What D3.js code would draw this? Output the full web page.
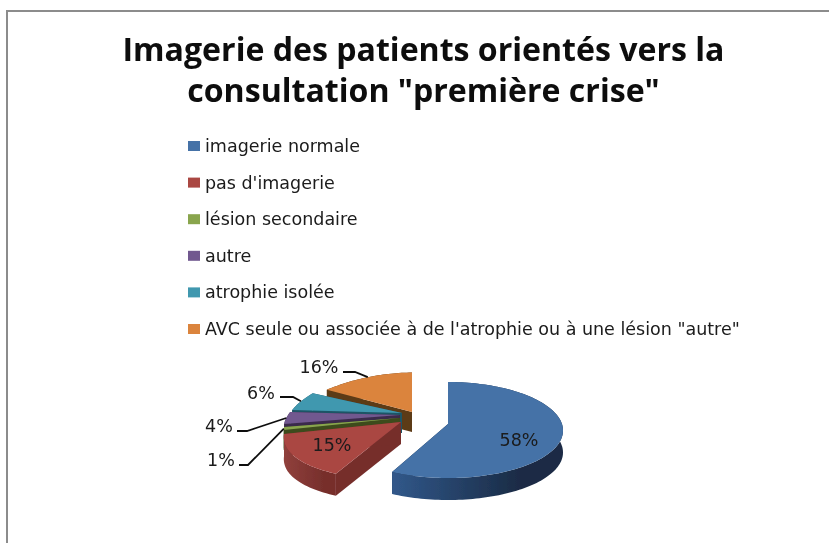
<!DOCTYPE html>
<html><head><meta charset="utf-8">
<script src="https://cdnjs.cloudflare.com/ajax/libs/d3/7.8.5/d3.min.js"></script>
<style>html,body{margin:0;padding:0;background:#fff}svg{display:block}</style>
</head><body><svg id="c" width="829" height="543"></svg>
<script>
const titleLines = ['Imagerie des patients orientés vers la','consultation "première crise"'];
const categories = ['imagerie normale',"pas d'imagerie",'lésion secondaire','autre','atrophie isolée',"AVC seule ou associée à de l'atrophie ou à une lésion \"autre\""];
const values = [58,15,1,4,6,16];
const colors = ['#4572a7','#aa4643','#89a54e','#71588f','#4198af','#db843d'];
const sideFrom = ['#31588a','#90403c','#3c4c1e','#3a2b4b','#1f5566','#5c3a18'];
const sideTo = ['#1a2b45','#772f2c','#3c4c1e','#3a2b4b','#1f5566','#5c3a18'];
const radialColors = ['#1a2b45','#762e2c','#3c4c1e','#3a2b4b','#1f5566','#5c3a18'];
// layout of the exploded 3D pie
const apexX = [448,401,400,400,402,412];
const apexY = [424,422,418,415,413,412];
const labelAt = [[519,440],[332,445],[221,460],[219,426],[261,393],[319,367]];
const leaderKnee = [null,null,[248,465],[247,431],[293,397],[355,372]];
const leaderStart = [null,null,[239,465],[237,431],[280,397],[343,372]];
const RX=115;
const ellipseA=[48,53,48,48,48,37];
const ellipseB=[6,5.3,6,6,6,-2.4];
const persp=[0.01,0.2,0.15,0.15,0.15,0.23];
const DEPTH=[22,22,20,20,20,20];

const svg=d3.select('#c');
const FONT='"DejaVu Sans"';
const defs=svg.append('defs');
defs.append('filter').attr('id','soft').append('feGaussianBlur').attr('stdDeviation',0.45);
const root=svg.append('g').attr('filter','url(#soft)');

root.append('path').attr('d',d3.line()([[7,543],[7,11],[829,11]])).attr('fill','none').attr('stroke','#8c8c8c').attr('stroke-width',2);

root.selectAll('text.t').data(titleLines).join('text').attr('class','t')
 .attr('x',423.5).attr('y',(d,i)=>61+i*41).attr('text-anchor','middle')
 .attr('font-family','"Open Sans"').attr('font-weight',700).attr('font-size',32.1).attr('fill','#0c0c0c').text(d=>d);

const legendY=d3.scalePoint().domain(d3.range(categories.length)).range([146,329]);
const lg=root.selectAll('g.l').data(categories).join('g').attr('class','l').attr('transform',(d,i)=>`translate(188,${legendY(i)})`);
lg.append('rect').attr('x',0).attr('y',-5).attr('width',12).attr('height',10).attr('fill',(d,i)=>colors[i]);
lg.append('text').attr('x',17).attr('y',6).attr('font-family',FONT).attr('font-size',17.5).attr('fill','#1a1a1a').text(d=>d);

const arcs=d3.pie().sort(null).startAngle(0).endAngle(2*Math.PI)(values);
function proj(i,r,t,dz=0){
  const s=Math.sin(t),c=Math.cos(t);
  return [apexX[i]+r*RX*s*(1-persp[i]*c), apexY[i]+r*(ellipseB[i]-ellipseA[i]*c)+dz];
}
const line=d3.line();
function arcPts(i,a0,a1,dz=0){
  const n=Math.max(2,Math.ceil((a1-a0)/0.03));
  return d3.range(n+1).map(k=>proj(i,1,a0+(a1-a0)*k/n,dz));
}
// back to front
const order=[5,4,3,2,1,0];
order.forEach(i=>{
  const a=arcs[i], g=root.append('g'), d=DEPTH[i];
  const id='side'+i;
  const top=arcPts(i,a.startAngle,a.endAngle);
  const xs=d3.extent(top,p=>p[0]);
  const grad=defs.append('linearGradient').attr('id',id).attr('gradientUnits','userSpaceOnUse')
    .attr('x1',xs[0]).attr('x2',xs[0]+(xs[1]-xs[0])*0.75).attr('y1',0).attr('y2',0);
  grad.append('stop').attr('offset',0).attr('stop-color',sideFrom[i]);
  grad.append('stop').attr('offset',1).attr('stop-color',sideTo[i]);
  const apex=[apexX[i],apexY[i]];
  [a.startAngle,a.endAngle].forEach(t=>{
    const o=proj(i,1,t);
    g.append('path').attr('d',line([apex,o,[o[0],o[1]+d],[apex[0],apex[1]+d]])+'Z').attr('fill',radialColors[i]);
  });
  const low=arcPts(i,a.startAngle,a.endAngle,d).reverse();
  g.append('path').attr('d',line(top.concat(low))+'Z').attr('fill',`url(#${id})`);
  g.append('path').attr('d',line([apex].concat(top))+'Z').attr('fill',colors[i]);
});

// leader lines
leaderKnee.forEach((k,i)=>{
  if(!k) return;
  const a=arcs[i];
  const e=proj(i,1,(a.startAngle+a.endAngle)/2);
  root.append('path').attr('d',line([leaderStart[i],k,e])).attr('fill','none').attr('stroke','#111').attr('stroke-width',1.8);
});
root.selectAll('text.v').data(values).join('text').attr('class','v')
 .attr('x',(d,i)=>labelAt[i][0]).attr('y',(d,i)=>labelAt[i][1]+6).attr('text-anchor','middle')
 .attr('font-family',FONT).attr('font-size',17.5).attr('fill','#1a1a1a').text(d=>d+'%');
</script></body></html>
